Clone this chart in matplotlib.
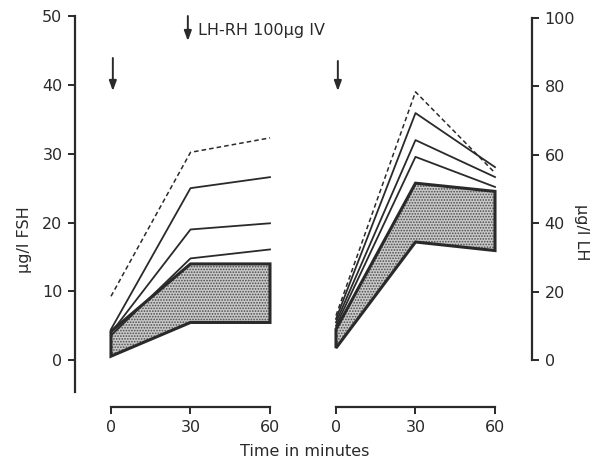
import matplotlib
matplotlib.use("Agg")
import matplotlib.pyplot as plt
from matplotlib.patches import Polygon

plt.rcParams['font.family'] = ['DejaVu Sans']
plt.rcParams['hatch.linewidth'] = 0.8

# ---- data ----
time_min = [0, 30, 60]
time_ticks = [0, 30, 60]

fsh_dashed = [9.3, 30.2, 32.3]
fsh_line_a = [4.5, 25.0, 26.6]
fsh_line_b = [4.0, 19.0, 19.9]
fsh_line_c = [3.6, 14.8, 16.1]
fsh_band_upper = [4.2, 14.0, 14.0]
fsh_band_lower = [0.6, 5.5, 5.5]
fsh_ticks = [0, 10, 20, 30, 40, 50]

lh_dashed = [13.0, 78.4, 54.7]
lh_line_a = [12.0, 72.2, 56.4]
lh_line_b = [11.0, 64.3, 53.5]
lh_line_c = [10.0, 59.4, 50.6]
lh_band_upper = [9.0, 51.7, 49.3]
lh_band_lower = [3.5, 34.5, 32.0]
lh_ticks = [0, 20, 40, 60, 80, 100]

W, H = 600, 461
DPI = 100
fig = plt.figure(figsize=(W / DPI, H / DPI), dpi=DPI)

def rect(l, r, t, b):
    return [l / W, 1 - b / H, (r - l) / W, (b - t) / H]

PT = 72.0 / DPI  # points per pixel
ink = '#2a2a2a'
fs = 11.5

def draw_panel(ax, dashed, lines, upper, lower):
    poly_pts = [(x, y) for x, y in zip(time_min, upper)] + \
               [(x, y) for x, y in zip(time_min[::-1], lower[::-1])]
    ax.add_patch(Polygon(poly_pts, closed=True, facecolor='#c9c9c9',
                         edgecolor='#4a4a4a', hatch='......', linewidth=0,
                         zorder=1))
    ax.add_patch(Polygon(poly_pts, closed=True, fill=False,
                         edgecolor=ink, linewidth=2.2, joinstyle='miter',
                         zorder=3))
    for ln in lines:
        ax.plot(time_min, ln, color=ink, lw=1.3, zorder=2, clip_on=False)
    ax.plot(time_min, dashed, color=ink, lw=1.1, ls=(0, (3, 2)), zorder=2,
            clip_on=False)

# ---- left panel (FSH) ----
ax1 = fig.add_axes(rect(75, 275, 16, 392))
ax1.set_xlim(-13.58, 61.89)
ax1.set_ylim(-4.6, 50)
draw_panel(ax1, fsh_dashed, [fsh_line_a, fsh_line_b, fsh_line_c],
           fsh_band_upper, fsh_band_lower)
for s in ['top', 'right']:
    ax1.spines[s].set_visible(False)
ax1.spines['left'].set_linewidth(1.6)
ax1.spines['left'].set_color(ink)
ax1.spines['bottom'].set_position(('outward', 15 * PT))
ax1.spines['bottom'].set_bounds(0, 60)
ax1.spines['bottom'].set_linewidth(1.6)
ax1.spines['bottom'].set_color(ink)
ax1.set_yticks(fsh_ticks)
ax1.set_xticks(time_ticks)
ax1.tick_params(axis='both', direction='out', length=7 * PT, width=1.4,
                color=ink, labelsize=fs, labelcolor=ink, pad=4)

# ---- right panel (LH) ----
ax2 = fig.add_axes(rect(330, 532, 18, 360))
ax2.set_xlim(-2.26, 73.96)
ax2.set_ylim(0, 100)
draw_panel(ax2, lh_dashed, [lh_line_a, lh_line_b, lh_line_c],
           lh_band_upper, lh_band_lower)
for s in ['top', 'left']:
    ax2.spines[s].set_visible(False)
ax2.spines['right'].set_linewidth(1.6)
ax2.spines['right'].set_color(ink)
ax2.spines['bottom'].set_position(('outward', 47 * PT))
ax2.spines['bottom'].set_bounds(0, 60)
ax2.spines['bottom'].set_linewidth(1.6)
ax2.spines['bottom'].set_color(ink)
ax2.yaxis.tick_right()
ax2.set_yticks(lh_ticks)
ax2.set_xticks(time_ticks)
ax2.tick_params(axis='both', direction='out', length=7 * PT, width=1.4,
                color=ink, labelsize=fs, labelcolor=ink, pad=4)

# ---- labels ----
fig.text(25 / W, 1 - 240 / H, 'μg/l FSH', rotation=90, ha='center',
         va='center', fontsize=fs, color=ink)
fig.text(581 / W, 1 - 232 / H, 'μg/l LH', rotation=270, ha='center',
         va='center', fontsize=fs, color=ink)
fig.text(305 / W, 1 - 451 / H, 'Time in minutes', ha='center',
         va='center', fontsize=fs, color=ink)
fig.text(198 / W, 1 - 30 / H, 'LH-RH 100μg IV', ha='left',
         va='center', fontsize=fs, color=ink)

# ---- injection arrows ----
arrow_kw = dict(arrowstyle='-|>,head_length=0.6,head_width=0.22',
                color=ink, lw=1.4, shrinkA=0, shrinkB=0)
ax1.annotate('', xy=(0.7, 1 - 91 / H), xytext=(0.7, 1 - 58 / H),
             xycoords=('data', 'figure fraction'),
             textcoords=('data', 'figure fraction'), arrowprops=arrow_kw,
             annotation_clip=False)
ax2.annotate('', xy=(0.7, 1 - 91 / H), xytext=(0.7, 1 - 61 / H),
             xycoords=('data', 'figure fraction'),
             textcoords=('data', 'figure fraction'), arrowprops=arrow_kw,
             annotation_clip=False)
ax1.annotate('', xy=(29, 1 - 41 / H), xytext=(29, 1 - 16 / H),
             xycoords=('data', 'figure fraction'),
             textcoords=('data', 'figure fraction'), arrowprops=arrow_kw,
             annotation_clip=False)

fig.savefig('out.png', dpi=DPI)
